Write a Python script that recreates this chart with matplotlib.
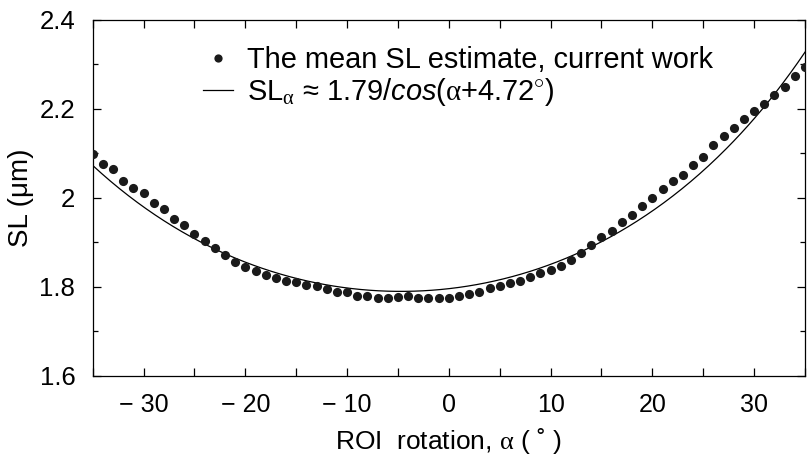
import matplotlib
matplotlib.use("Agg")
import matplotlib.pyplot as plt
import numpy as np
from matplotlib.ticker import FixedLocator, FixedFormatter, MultipleLocator

plt.rcParams['font.family'] = ['Liberation Sans', 'DejaVu Sans']
plt.rcParams['mathtext.fontset'] = 'custom'
plt.rcParams['mathtext.rm'] = 'Liberation Serif'
plt.rcParams['mathtext.it'] = 'Liberation Sans:italic'

# Data
alpha = list(range(-35, 36))
sl_mean = [
    2.098, 2.076, 2.064, 2.038, 2.023, 2.010, 1.989, 1.974, 1.953, 1.939,
    1.919, 1.903, 1.888, 1.871, 1.856, 1.845, 1.836, 1.827, 1.821, 1.813,
    1.812, 1.804, 1.801, 1.795, 1.789, 1.788, 1.780, 1.780, 1.776, 1.776,
    1.778, 1.780, 1.776, 1.776, 1.775, 1.775, 1.779, 1.784, 1.789, 1.797,
    1.803, 1.809, 1.813, 1.822, 1.831, 1.837, 1.847, 1.861, 1.876, 1.894,
    1.911, 1.926, 1.945, 1.961, 1.981, 1.999, 2.020, 2.038, 2.052, 2.074,
    2.092, 2.118, 2.139, 2.156, 2.177, 2.196, 2.211, 2.230, 2.248, 2.273,
    2.293,
]
# Fit parameters stated in the legend: SL_alpha = A / cos(alpha + B)
fit_A = 1.79
fit_B = 4.72

x_ticks = [-30, -20, -10, 0, 10, 20, 30]
x_tick_labels = ['\u2212 30', '\u2212 20', '\u2212 10', '0', '10', '20', '30']
y_ticks = [1.6, 1.8, 2.0, 2.2, 2.4]
y_tick_labels = ['1.6', '1.8', '2', '2.2', '2.4']

fig = plt.figure(figsize=(8.12, 4.65), dpi=100)
ax = fig.add_axes([92.7/812, 1-376/465, (805-92.7)/812, (376-19.7)/465])

xx = np.linspace(-35, 35, 400)
fit_curve = fit_A / np.cos(np.radians(xx + fit_B))

fit_label = ('SL$_{\\mathrm{\\alpha}}$ \u2248 1.79/$\\it{cos}$'
             '($\\mathrm{\\alpha}$+4.72$^{\\circ}$)')

ax.plot(alpha, sl_mean, 'o', color='#1a1a1a', markersize=6.6, markeredgewidth=0,
        label='The mean SL estimate, current work', zorder=3)
ax.plot(xx, fit_curve, '-', color='black', linewidth=0.9, label=fit_label)

ax.set_xlim(-35, 35)
ax.set_ylim(1.6, 2.4)
ax.xaxis.set_major_locator(FixedLocator(x_ticks))
ax.xaxis.set_major_formatter(FixedFormatter(x_tick_labels))
ax.xaxis.set_minor_locator(MultipleLocator(5))
ax.yaxis.set_major_locator(FixedLocator(y_ticks))
ax.yaxis.set_major_formatter(FixedFormatter(y_tick_labels))
ax.yaxis.set_minor_locator(MultipleLocator(0.1))

ax.tick_params(which='both', direction='in', top=True, right=True, width=0.9)
ax.tick_params(axis='x', which='both', length=5.5, pad=12, labelsize=18)
ax.tick_params(axis='y', which='major', length=5.5, pad=12.5, labelsize=18.5)
ax.tick_params(axis='y', which='minor', length=3.5)
for s in ax.spines.values():
    s.set_linewidth(0.9)

ax.set_xlabel('ROI  rotation, $\\mathrm{\\alpha}$ ( \u02da )', fontsize=19, labelpad=7)
ax.set_ylabel('SL (\u03bcm)', fontsize=20, labelpad=4)

leg = ax.legend(loc='upper left', bbox_to_anchor=(0.155, 0.927), frameon=False,
                fontsize=20.9, handlelength=1.03, handletextpad=0.48,
                labelspacing=0.07, borderpad=0, borderaxespad=0, markerscale=0.9)

fig.savefig('out.png', dpi=100)
